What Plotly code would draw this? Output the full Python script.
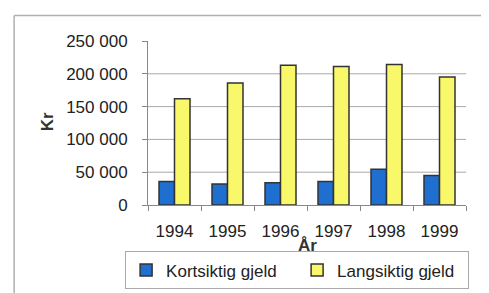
import plotly.graph_objects as go

years = ["1994", "1995", "1996", "1997", "1998", "1999"]
kortsiktig = [36000, 32000, 34000, 36000, 54500, 45000]
langsiktig = [162000, 186000, 213000, 211000, 214000, 195000]
y_ticks = [0, 50000, 100000, 150000, 200000, 250000]
y_ticktext = ["0", "50 000", "100 000", "150 000", "200 000", "250 000"]
grid_vals = [50000, 100000, 150000, 200000]

FONT = "Liberation Sans, Arial, sans-serif"

fig = go.Figure()
fig.add_trace(go.Bar(x=years, y=kortsiktig, name="Kortsiktig gjeld",
                     marker=dict(color="#1f6fd0", line=dict(color="#333333", width=1.5))))
fig.add_trace(go.Bar(x=years, y=langsiktig, name="Langsiktig gjeld",
                     marker=dict(color="#f8f86a", line=dict(color="#333333", width=1.5))))

shapes = []
for g in grid_vals:
    shapes.append(dict(type="line", xref="paper", yref="y", x0=0, x1=1, y0=g, y1=g,
                       line=dict(color="#a8a8a8", width=1), layer="below"))
# outer frame (top and left)
shapes.append(dict(type="line", xref="paper", yref="paper", x0=-0.421, x1=1.2, y0=1.156, y1=1.156,
                   line=dict(color="#b0b0b0", width=1.5)))
shapes.append(dict(type="line", xref="paper", yref="paper", x0=-0.421, x1=-0.421, y0=1.156, y1=-0.6,
                   line=dict(color="#b0b0b0", width=1.5)))

fig.update_layout(
    width=489, height=293,
    margin=dict(l=140, r=31, t=33, b=87),
    paper_bgcolor="white", plot_bgcolor="white",
    barmode="group", bargap=0.415, bargroupgap=0,
    font=dict(family=FONT, size=17, color="#222222"),
    shapes=shapes,
    showlegend=True,
    legend=dict(orientation="h", x=-0.072, y=-0.283, xanchor="left", yanchor="top",
                bordercolor="#aaaaaa", borderwidth=1, font=dict(size=17, family=FONT),
                entrywidth=126, entrywidthmode="pixels", itemwidth=30,
                traceorder="normal"),
    xaxis=dict(showgrid=False, showline=True, linecolor="#888888", linewidth=1,
               ticks="outside", ticklen=5, tickcolor="#888888", tickson="boundaries",
               ticklabelstandoff=11, tickfont=dict(size=17)),
    yaxis=dict(range=[0, 250000], showgrid=False, zeroline=False, showline=True,
               linecolor="#888888", linewidth=1, ticks="outside", ticklen=5,
               tickcolor="#888888", tickvals=y_ticks, ticktext=y_ticktext,
               ticklabelstandoff=11, tickfont=dict(size=17)),
    annotations=[
        dict(text="<b>År</b>", xref="paper", yref="paper", x=0.5, y=-0.245,
             showarrow=False, font=dict(size=17, family=FONT, color="#333333"),
             xanchor="center", yanchor="middle"),
        dict(text="<b>Kr</b>", xref="paper", yref="paper", x=-0.318, y=0.51,
             showarrow=False, textangle=-90, font=dict(size=17, family=FONT, color="#333333"),
             xanchor="center", yanchor="middle"),
    ],
)

fig.write_html("out.html")
